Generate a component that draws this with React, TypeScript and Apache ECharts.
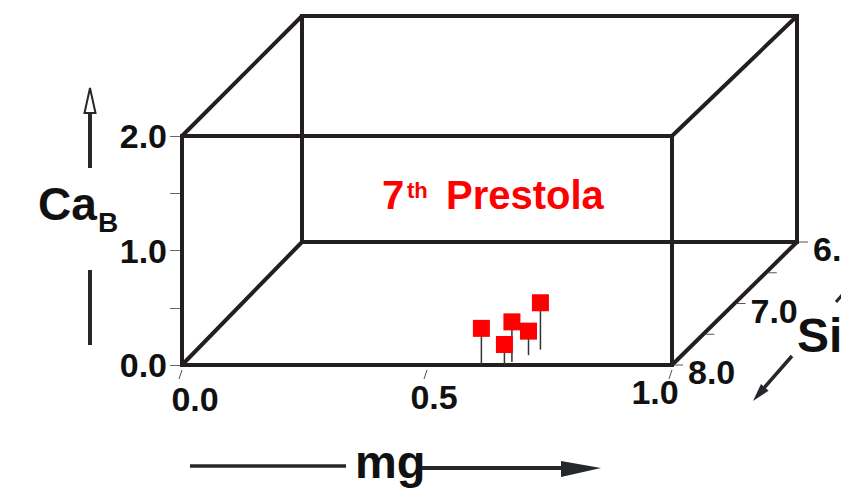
import React, { useEffect, useRef } from 'react';
import * as echarts from 'echarts';

// Axis ticks / labels
const mgTicks = [0, 0.5, 1];
const mgLabels = ['0.0', '0.5', '1.0'];
const caTicks = [0, 0.5, 1, 1.5, 2];
const caLabels = ['0.0', '', '1.0', '', '2.0'];
const siTicks = [8, 7.5, 7, 6.5, 6];
const siLabels = ['8.0', '', '7.0', '', '6.0'];

// Data points (ordered back to front)
const mgValues = [0.7, 0.687, 0.667, 0.658, 0.611];
const caValues = [0.41, 0.21, 0.35, 0.18, 0.32];
const siValues = [7.75, 7.84, 7.95, 8.0, 8.0];

const SI_FRONT = 8;
const SI_BACK = 6;
const FONT = '"Liberation Sans", Arial, sans-serif';
const BOX = '#231f20';
const DARK = '#25282b';

function proj(api: any, mg: number, ca: number, si: number) {
  const p = api.coord([mg, ca]);
  const f = (SI_FRONT - si) / (SI_FRONT - SI_BACK);
  return [p[0] + f * (120 + 5 * mg), p[1] + f * (-123 + 1.5 * ca)];
}

export default function App() {
  const ref = useRef<HTMLDivElement>(null);
  useEffect(() => {
    if (!ref.current) return;
    const chart = echarts.init(ref.current, undefined, { renderer: 'svg' });
    const base = { fontSize: 34, fontWeight: 'bold', fontFamily: FONT, color: '#111' };
    const option: any = {
      animation: false,
      backgroundColor: '#fff',
      grid: { left: 182, top: 136, width: 490, height: 229 },
      xAxis: {
        type: 'value', min: 0, max: 1, interval: 0.5,
        axisLine: { show: false }, axisTick: { show: false }, splitLine: { show: false },
        axisLabel: {
          margin: 10,
          formatter: (v: number) => {
            const i = mgTicks.indexOf(v);
            return i < 0 ? '' : `{t${i}|${mgLabels[i]}}`;
          },
          rich: {
            t0: { ...base, padding: [7, 0, 0, 26] },
            t1: { ...base, padding: [5, 0, 0, 14] },
            t2: { ...base, padding: [0, 34, 0, 0] },
          },
        },
      },
      yAxis: {
        type: 'value', min: 0, max: 2, interval: 0.5,
        axisLine: { show: false }, splitLine: { show: false },
        axisTick: { show: true, length: 12, lineStyle: { color: '#666', width: 1 } },
        axisLabel: {
          ...base, margin: 15, padding: [5, 0, 0, 0],
          formatter: (v: number) => {
            const i = caTicks.indexOf(v);
            return i < 0 ? '' : caLabels[i];
          },
        },
      },
      graphic: [
        // CaB label and arrow
        { type: 'text', x: 38, y: 204, style: { text: 'Ca', font: `bold 46px ${FONT}`, fill: '#111', verticalAlign: 'middle' } },
        { type: 'text', x: 98, y: 222, style: { text: 'B', font: `bold 28px ${FONT}`, fill: '#111', verticalAlign: 'middle' } },
        { type: 'line', shape: { x1: 90, y1: 168, x2: 90, y2: 112 }, style: { stroke: DARK, lineWidth: 4 } },
        { type: 'polygon', shape: { points: [[90, 88], [95.5, 113], [84.5, 113]] }, style: { fill: '#fff', stroke: DARK, lineWidth: 2 } },
        { type: 'line', shape: { x1: 90, y1: 270, x2: 90, y2: 345 }, style: { stroke: DARK, lineWidth: 4 } },
        // mg label and arrow
        { type: 'text', x: 355, y: 461, style: { text: 'mg', font: `bold 47px ${FONT}`, fill: '#111', verticalAlign: 'middle' } },
        { type: 'line', shape: { x1: 190, y1: 466, x2: 346, y2: 466 }, style: { stroke: DARK, lineWidth: 3.5 } },
        { type: 'line', shape: { x1: 422, y1: 468, x2: 565, y2: 468 }, style: { stroke: DARK, lineWidth: 4 } },
        { type: 'polygon', shape: { points: [[561, 461], [601, 468], [561, 477]] }, style: { fill: DARK } },
        // Si label and arrow
        { type: 'text', x: 797, y: 335, style: { text: 'Si', font: `bold 48px ${FONT}`, fill: '#111', verticalAlign: 'middle' } },
        { type: 'line', shape: { x1: 792, y1: 356, x2: 763, y2: 389 }, style: { stroke: DARK, lineWidth: 3.5 } },
        { type: 'polygon', shape: { points: [[753, 401], [768.6, 390.7], [761, 384.1]] }, style: { fill: DARK } },
        { type: 'line', shape: { x1: 836, y1: 302, x2: 843, y2: 294 }, style: { stroke: DARK, lineWidth: 3 } },
        // Title
        { type: 'text', x: 382, y: 195, style: { text: '7', font: `bold 40px ${FONT}`, fill: '#ff0000', verticalAlign: 'middle' } },
        { type: 'text', x: 407, y: 190, style: { text: 'th', font: `bold 22px ${FONT}`, fill: '#ff0000', verticalAlign: 'middle' } },
        { type: 'text', x: 446, y: 195, style: { text: 'Prestola', font: `bold 40px ${FONT}`, fill: '#ff0000', verticalAlign: 'middle' } },
      ],
      series: [
        {
          type: 'custom',
          name: 'box',
          clip: false,
          silent: true,
          data: [[0, 0]],
          z: 1,
          renderItem: (params: any, api: any) => {
            const P = (mg: number, ca: number, si: number) => proj(api, mg, ca, si);
            const children: any[] = [];
            const rect = (si: number) => [P(0, 0, si), P(1, 0, si), P(1, 2, si), P(0, 2, si)];
            const back = rect(SI_BACK);
            const front = rect(SI_FRONT);
            const ls = { stroke: BOX, lineWidth: 4, fill: 'none', lineJoin: 'miter' };
            children.push({ type: 'polygon', shape: { points: back }, style: ls });
            for (let i = 0; i < 4; i++) {
              children.push({ type: 'line', shape: { x1: front[i][0], y1: front[i][1], x2: back[i][0], y2: back[i][1] }, style: { stroke: BOX, lineWidth: 4 } });
            }
            children.push({ type: 'polygon', shape: { points: front }, style: ls });
            // mg ticks (slanted, toward viewer)
            mgTicks.forEach((v) => {
              const p = P(v, 0, SI_FRONT);
              children.push({ type: 'line', shape: { x1: p[0], y1: p[1] + 5, x2: p[0] - 3, y2: p[1] + 14 }, style: { stroke: '#555', lineWidth: 1 } });
            });
            // Si ticks and labels along the right floor edge
            siTicks.forEach((s, i) => {
              const p = P(1, 0, s);
              children.push({ type: 'line', shape: { x1: p[0] + 2, y1: p[1], x2: p[0] + 11, y2: p[1] }, style: { stroke: '#555', lineWidth: 1 } });
              if (siLabels[i]) {
                children.push({ type: 'text', style: { text: siLabels[i], x: p[0] + 16, y: p[1] + 7, font: `bold 34px ${FONT}`, fill: '#111', align: 'left', verticalAlign: 'middle' } });
              }
            });
            return { type: 'group', children };
          },
        },
        {
          type: 'custom',
          name: '7th Prestola',
          clip: false,
          z: 3,
          data: mgValues.map((m, i) => [m, caValues[i], siValues[i]]),
          renderItem: (params: any, api: any) => {
            const mg = api.value(0), ca = api.value(1), si = api.value(2);
            const floor = proj(api, mg, 0, si);
            const top = proj(api, mg, ca, si);
            const s = 17;
            return {
              type: 'group',
              children: [
                { type: 'line', shape: { x1: floor[0], y1: floor[1], x2: top[0], y2: top[1] }, style: { stroke: '#333', lineWidth: 1.5 } },
                { type: 'rect', shape: { x: top[0] - s / 2, y: top[1] - s / 2, width: s, height: s }, style: { fill: '#ff0000' } },
              ],
            };
          },
        },
      ],
    };
    chart.setOption(option);
    return () => chart.dispose();
  }, []);
  return <div ref={ref} style={{ position: 'absolute', left: 0, top: 0, width: 841, height: 499, background: '#fff' }} />;
}
